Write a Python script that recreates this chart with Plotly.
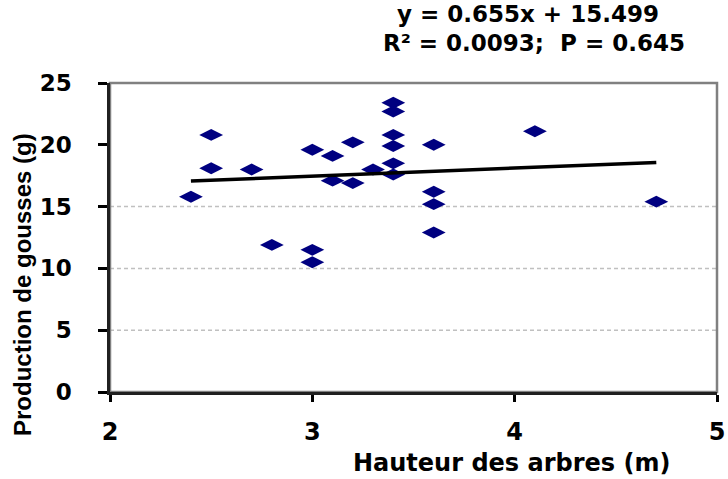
import plotly.graph_objects as go

# Tree height (m) and pod production (g) per tree
hauteur = [2.4, 2.5, 2.5, 2.7, 2.8, 3.0, 3.0, 3.0, 3.1, 3.1, 3.2, 3.2, 3.3,
           3.4, 3.4, 3.4, 3.4, 3.4, 3.4, 3.6, 3.6, 3.6, 3.6, 4.1, 4.7]
production = [15.8, 20.8, 18.1, 18.0, 11.9, 19.6, 11.5, 10.5, 19.1, 17.1, 20.2, 16.9, 18.0,
              23.4, 22.7, 20.8, 19.9, 18.5, 17.6, 20.0, 16.2, 15.2, 12.9, 21.1, 15.4]

# Linear fit coefficients and statistics
pente = 0.655
ordonnee = 15.499
r2 = 0.0093
p_val = 0.645

x_ticks = [2, 3, 4, 5]
y_ticks = [0, 5, 10, 15, 20, 25]
grid_levels = [5, 10, 15]

WIDE = "DejaVu Sans"
NARROW = "Liberation Sans"

# plot-area pixel geometry used to place free text
L, R, T, B = 110, 717, 83, 392


def px(xp):
    return (xp - L) / (R - L)


def py(yp):
    return (B - yp) / (B - T)


fig = go.Figure()

fig.add_trace(go.Scatter(
    x=hauteur, y=production, mode="markers",
    marker=dict(symbol="diamond-wide", size=17, color="#000080",
                line=dict(width=0)),
    showlegend=False,
))

x_fit = [min(hauteur), max(hauteur)]
y_fit = [pente * v + ordonnee for v in x_fit]
fig.add_trace(go.Scatter(
    x=x_fit, y=y_fit, mode="lines",
    line=dict(color="black", width=3.5),
    showlegend=False,
))

shapes = []
for g in grid_levels:
    shapes.append(dict(type="line", xref="paper", yref="y", x0=0, x1=1, y0=g, y1=g,
                       line=dict(color="#c0c0c0", width=1.5, dash="4px,3px"),
                       layer="below"))
# grey frame on top/right
shapes.append(dict(type="rect", xref="paper", yref="paper", x0=0, x1=1, y0=0, y1=1,
                   line=dict(color="#808080", width=2.5), layer="below"))

annotations = [
    dict(text=f"y = {pente}x + {ordonnee}", xref="paper", yref="paper",
         x=px(528), y=py(14), showarrow=False,
         font=dict(family=WIDE, size=23, color="black", weight="bold"),
         xanchor="center", yanchor="middle"),
    dict(text=f"R² = {r2};  P = {p_val}", xref="paper", yref="paper",
         x=px(534), y=py(43), showarrow=False,
         font=dict(family=WIDE, size=23, color="black", weight="bold"),
         xanchor="center", yanchor="middle"),
    dict(text="Hauteur des arbres (m)", xref="paper", yref="paper",
         x=px(511), y=py(463), showarrow=False,
         font=dict(family=WIDE, size=24, color="black", weight="bold"),
         xanchor="center", yanchor="middle"),
    dict(text="Production de gousses (g)", xref="paper", yref="paper",
         x=px(22), y=py(285), showarrow=False, textangle=-90,
         font=dict(family=NARROW, size=24, color="black", weight="bold"),
         xanchor="center", yanchor="middle"),
]

fig.update_layout(
    width=728, height=479,
    margin=dict(l=L, r=728 - R, t=T, b=479 - B, pad=0),
    paper_bgcolor="white", plot_bgcolor="white",
    shapes=shapes, annotations=annotations,
    font=dict(family=WIDE, color="black"),
)

fig.update_xaxes(
    range=[2, 5], tickvals=x_ticks, ticktext=[str(v) for v in x_ticks],
    showgrid=False, zeroline=False, automargin=False,
    showline=True, linecolor="#202020", linewidth=2.5,
    ticks="outside", ticklen=7, tickwidth=2.5, tickcolor="black",
    tickfont=dict(family=WIDE, size=24, color="black", weight="bold"),
    ticklabelstandoff=9,
)
fig.update_yaxes(
    range=[0, 25], tickvals=y_ticks, ticktext=[str(v) for v in y_ticks],
    showgrid=False, zeroline=False, automargin=False,
    showline=True, linecolor="#202020", linewidth=2.5,
    ticks="outside", ticklen=9, tickwidth=2.5, tickcolor="black",
    tickfont=dict(family=WIDE, size=23, color="black", weight="bold"),
    ticklabelstandoff=22,
)

fig.write_html("out.html")
